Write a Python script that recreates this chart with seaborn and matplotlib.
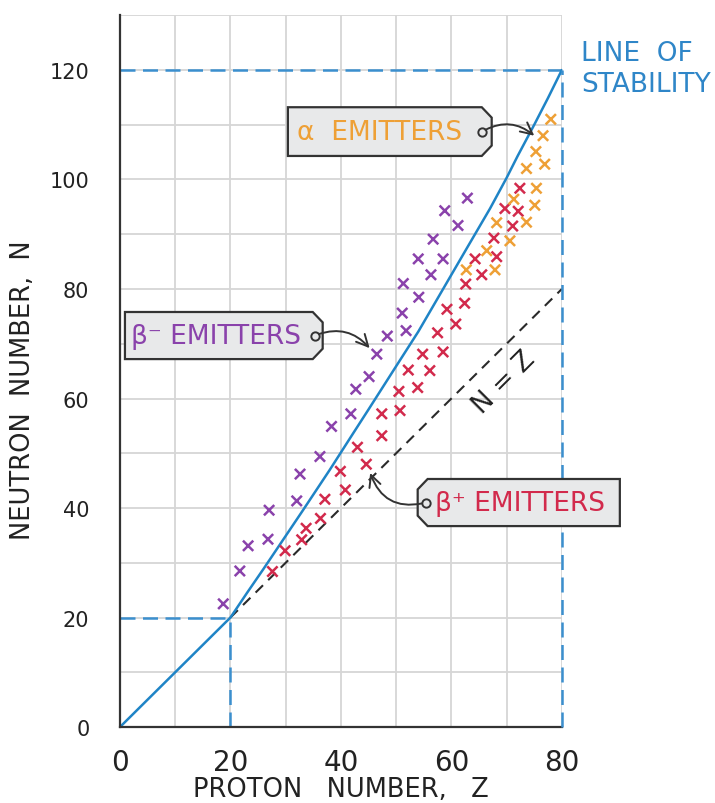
import matplotlib
matplotlib.use("Agg")
import matplotlib.pyplot as plt
from matplotlib.patches import Polygon
import seaborn as sns
import pandas as pd

# ---------------- data ----------------
beta_minus_z = [18.7, 21.7, 23.2, 26.8, 27.0, 32.0, 32.6, 36.2, 38.3, 41.8, 42.7, 45.1, 46.5,
                48.4, 51.8, 51.1, 54.1, 51.3, 56.3, 54.0, 58.5, 56.7, 61.2, 58.8, 62.9]
beta_minus_n = [22.5, 28.5, 33.1, 34.3, 39.6, 41.3, 46.2, 49.4, 54.9, 57.2, 61.7, 64.0, 68.1,
                71.4, 72.4, 75.6, 78.5, 81.0, 82.6, 85.5, 85.5, 89.1, 91.6, 94.3, 96.6]

beta_plus_z = [27.6, 29.9, 32.9, 33.7, 36.3, 37.1, 40.8, 39.9, 44.6, 43.0, 47.4, 47.4, 50.7,
               50.5, 53.9, 52.2, 56.1, 54.8, 58.5, 57.5, 60.8, 59.2, 62.4, 62.6, 65.5, 64.3,
               68.2, 67.7, 71.1, 69.7, 72.1, 72.4]
beta_plus_n = [28.4, 32.2, 34.2, 36.3, 38.1, 41.6, 43.3, 46.7, 48.0, 51.1, 53.2, 57.2, 57.8,
               61.3, 62.0, 65.2, 65.1, 68.1, 68.5, 72.0, 73.6, 76.3, 77.4, 80.9, 82.6, 85.5,
               85.9, 89.3, 91.5, 94.7, 94.2, 98.4]

alpha_z = [62.7, 67.9, 66.4, 70.6, 68.2, 73.6, 71.3, 75.1, 75.4, 73.6, 76.9, 75.3, 76.6, 78.0]
alpha_n = [83.5, 83.5, 87.0, 88.8, 92.1, 92.2, 96.4, 95.3, 98.4, 102.0, 102.8, 105.1, 108.0, 111.0]

stability_z = [0, 20, 23, 26, 29, 33, 38, 42, 45, 50, 54, 57, 60, 63, 67, 70, 72, 75, 77.5, 80]
stability_n = [0, 20, 24.5, 28.9, 33.4, 39.4, 47.0, 53.3, 58.0, 65.9, 72.2, 77.4, 82.6, 87.8,
               94.7, 100.3, 104.3, 110.0, 114.9, 120]

nz_z = [20, 80]
nz_n = [20, 80]

x_ticks = [0, 10, 20, 30, 40, 50, 60, 70, 80]
x_ticklabels = ["0", "", "20", "", "40", "", "60", "", "80"]
y_ticks = [0, 10, 20, 30, 40, 50, 60, 70, 80, 90, 100, 110, 120, 130]
y_ticklabels = ["0", "", "20", "", "40", "", "60", "", "80", "", "100", "", "120", ""]

groups = ["β⁻ EMITTERS", "β⁺ EMITTERS", "α EMITTERS"]
colors = {"β⁻ EMITTERS": "#8a42ab", "β⁺ EMITTERS": "#d22a4c", "α EMITTERS": "#eea036"}

# ---------------- style ----------------
sns.set_theme(style="white")
NARROW = ["Liberation Sans Narrow", "DejaVu Sans"]
plt.rcParams["font.family"] = NARROW

df = pd.DataFrame({
    "Z": beta_minus_z + beta_plus_z + alpha_z,
    "N": beta_minus_n + beta_plus_n + alpha_n,
    "type": [groups[0]] * len(beta_minus_z) + [groups[1]] * len(beta_plus_z) + [groups[2]] * len(alpha_z),
})

fig = plt.figure(figsize=(7.15, 8.04), dpi=100)
ax = fig.add_axes([0.1678, 0.0945, 0.618, 0.8853])

ax.set_xlim(0, 80)
ax.set_ylim(0, 130)
ax.set_xticks(x_ticks)
ax.set_xticklabels(x_ticklabels, fontsize=20, family=NARROW, color="#222222")
ax.set_yticks(y_ticks)
ax.set_yticklabels(y_ticklabels, fontsize=15, family=["DejaVu Sans"], color="#222222")
ax.grid(True, color="#d6d6d6", lw=1.3)
ax.set_axisbelow(True)
for s in ["top", "right"]:
    ax.spines[s].set_visible(False)
for s in ["left", "bottom"]:
    ax.spines[s].set_color("#333333")
    ax.spines[s].set_linewidth(1.6)
ax.tick_params(axis="both", direction="out", length=10, width=1.5, color="#333333")
ax.tick_params(axis="y", pad=12)
ax.tick_params(axis="x", pad=5)

# reference dashed lines
blue_d = "#3b8fce"
dash = (0, (6, 3))
ax.hlines(stability_n[-1], 0, stability_z[-1], colors=blue_d, lw=1.8, linestyles=dash, clip_on=False)
ax.vlines(stability_z[-1], 0, stability_n[-1], colors=blue_d, lw=1.8, linestyles=dash, clip_on=False, zorder=3)
ax.hlines(stability_n[1], 0, stability_z[1], colors=blue_d, lw=1.8, linestyles=dash)
ax.vlines(stability_z[1], 0, stability_n[1], colors=blue_d, lw=1.8, linestyles=dash)

# N = Z
sns.lineplot(x=nz_z, y=nz_n, ax=ax, color="#2a2a2a", lw=1.5, linestyle=(0, (5, 3.5)),
             sort=False, estimator=None)

# line of stability
sns.lineplot(x=stability_z, y=stability_n, ax=ax, color="#1f84c6", lw=1.8, sort=False,
             estimator=None)

# emitters
sns.scatterplot(data=df, x="Z", y="N", hue="type", palette=colors, marker="x", s=55,
                linewidth=1.8, ax=ax, legend=False, zorder=4)

ax.set_xlabel("PROTON   NUMBER,   Z", fontsize=18.5, color="#222222", labelpad=0)
ax.set_ylabel("NEUTRON  NUMBER,  N", fontsize=18.5, color="#222222")
ax.yaxis.set_label_coords(-0.19, 0.475)

# Line of stability label
ax.text(83.5, 125.5, "LINE  OF\nSTABILITY", color="#2f86c8", fontsize=19, va="top", ha="left",
        linespacing=1.25, clip_on=False)

# N = Z label
ax.text(69.5, 63.0, "N = Z", rotation=45, fontsize=19, color="#222222",
        ha="center", va="center", rotation_mode="anchor")

# tags
def tag(xl, xr, yb, yt, chamfer_side, text, color, tx, hole, target, rad):
    cx, cy = 1.8, 1.9
    if chamfer_side == "right":
        pts = [(xl, yb), (xr - cx, yb), (xr, yb + cy), (xr, yt - cy), (xr - cx, yt), (xl, yt)]
    else:
        pts = [(xl + cx, yb), (xr, yb), (xr, yt), (xl + cx, yt), (xl, yt - cy), (xl, yb + cy)]
    poly = Polygon(pts, closed=True, facecolor="#e8e9ea", edgecolor="#333333", lw=1.6,
                   clip_on=False, zorder=5)
    ax.add_patch(poly)
    ax.text(tx, (yb + yt) / 2, text, color=color, fontsize=19, va="center", ha="left",
            zorder=6, clip_on=False)
    ax.plot([hole[0]], [hole[1]], marker="o", ms=6, mfc="#e8e9ea", mec="#333333", mew=1.4,
            zorder=7, clip_on=False)
    ax.annotate("", xy=target, xytext=hole,
                arrowprops=dict(arrowstyle="->,head_length=0.7,head_width=0.35",
                                connectionstyle=f"arc3,rad={rad}", color="#333333", lw=1.4,
                                shrinkA=3, shrinkB=0),
                zorder=7, annotation_clip=False)

tag(30.4, 67.3, 104.3, 113.2, "right", "α  EMITTERS", colors["α EMITTERS"], 32.0,
    (65.5, 108.7), (75.0, 108.0), -0.35)
tag(0.9, 36.7, 67.2, 75.8, "right", "β⁻ EMITTERS", colors["β⁻ EMITTERS"], 2.0,
    (35.3, 71.5), (45.2, 69.2), -0.35)
tag(53.9, 90.5, 36.7, 45.3, "left", "β⁺ EMITTERS", colors["β⁺ EMITTERS"], 57.0,
    (55.4, 41.0), (45.3, 46.4), -0.45)

fig.savefig("out.png", dpi=100)
